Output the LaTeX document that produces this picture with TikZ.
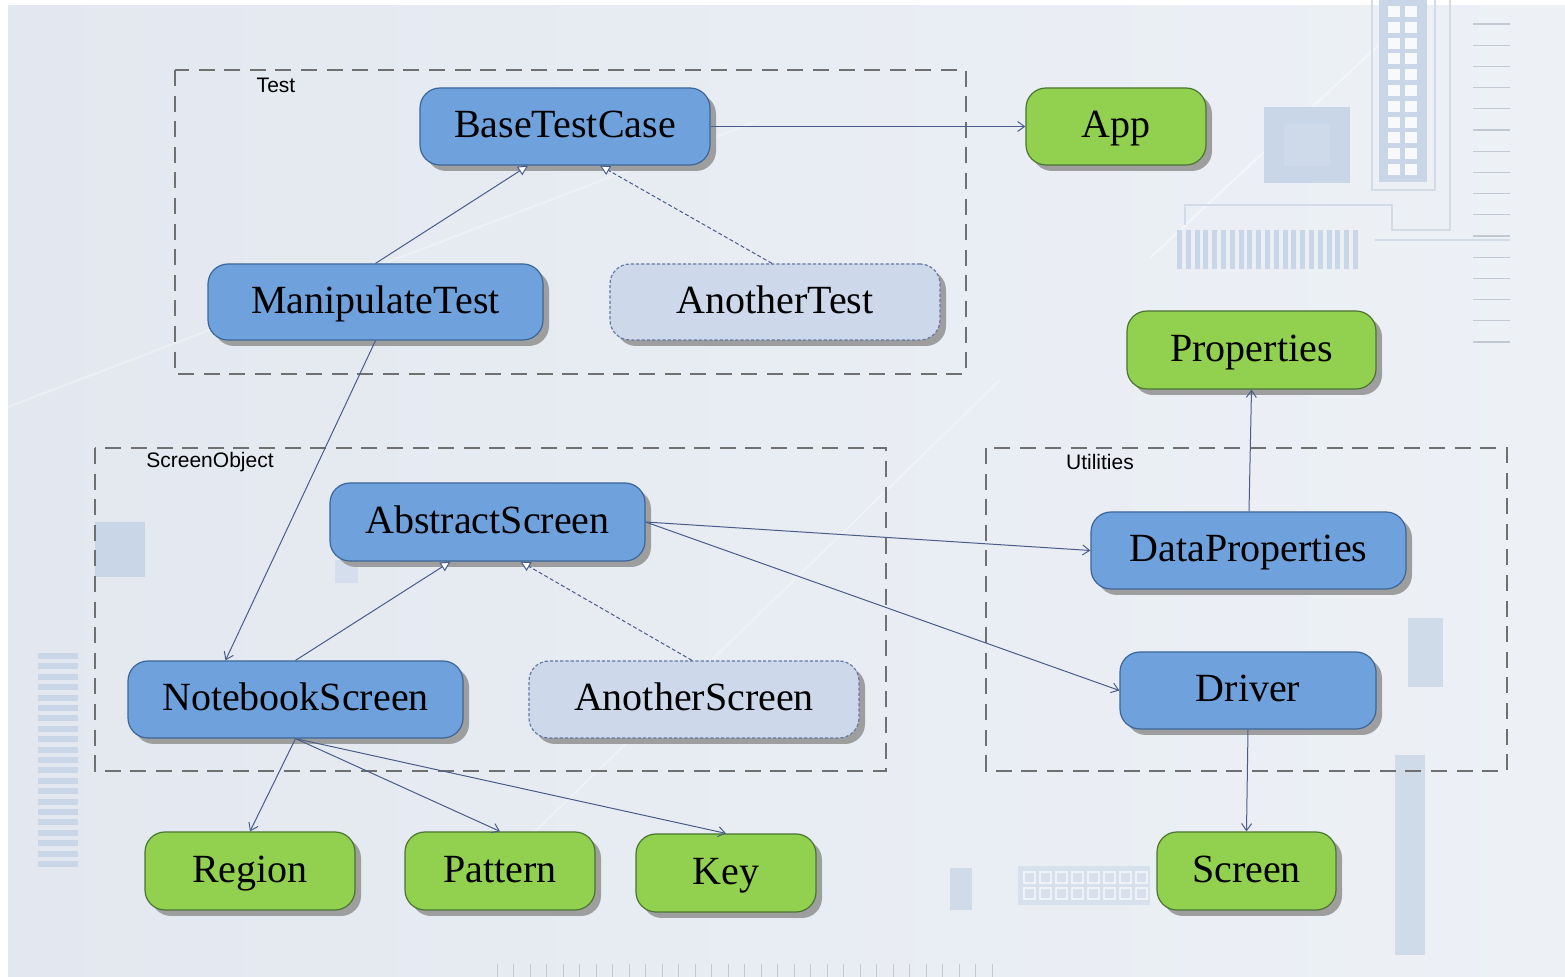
\documentclass[tikz,border=0pt]{standalone}
\usepackage{fontspec}
\setmainfont{Liberation Serif}
\newfontfamily\grouplabelfont{Liberation Sans}
\usetikzlibrary{arrows.meta,calc,shadows}

\definecolor{bgA}{HTML}{E3E8F0}
\definecolor{bgB}{HTML}{EDF1F6}
\definecolor{clsblue}{HTML}{6FA1DC}
\definecolor{clsline}{HTML}{3C6699}
\definecolor{extgreen}{HTML}{92D050}
\definecolor{extline}{HTML}{4B7530}
\definecolor{altfill}{HTML}{CDD9EA}
\definecolor{altline}{HTML}{6479A5}
\definecolor{edgecol}{HTML}{4A5D8A}
\definecolor{groupline}{HTML}{707070}
\definecolor{deco}{HTML}{C9D6E7}
\definecolor{decoline}{HTML}{D3DBE6}

\tikzset{
  boxbase/.style={rounded corners=10pt, line width=0.6pt, inner sep=0pt,
    text height=15pt, text depth=3.5pt,
    font=\fontsize{20}{24}\selectfont,
    drop shadow={shadow xshift=3pt, shadow yshift=-3pt, fill=black!38, opacity=1}},
  cls/.style={boxbase, draw=clsline, fill=clsblue},
  ext/.style={boxbase, draw=extline, fill=extgreen},
  alt/.style={boxbase, draw=altline, fill=altfill, dash pattern=on 1.6pt off 1pt},
  sz/.style 2 args={minimum width=#1, minimum height=#2},
  group/.style={draw=groupline, line width=1.3pt, dash pattern=on 8pt off 4.8pt},
  grouplabel/.style={font=\grouplabelfont\fontsize{10.5}{12}\selectfont, inner sep=0pt},
  rel/.style={draw=edgecol, line width=0.5pt,
    -{Straight Barb[length=3.5pt, width=5pt, line width=0.5pt]}},
  inh/.style={draw=edgecol, line width=0.5pt,
    -{Triangle[length=5pt, width=5pt, fill=white, line width=0.5pt]}},
  realize/.style={inh, dash pattern=on 2pt off 1.2pt},
}

\begin{document}
\begin{tikzpicture}[x=0.5pt, y=-0.5pt]
  % canvas
  \fill[white] (0,0) rectangle (1565,977);
  \shade[left color=bgA, right color=bgB] (8,6) rectangle (1565,977);
  \useasboundingbox (0,0) rectangle (1565,977);

  % faint circuit-board backdrop
  \draw[white, line width=1pt, opacity=0.3] (0,410) -- (760,120);
  \draw[white, line width=1pt, opacity=0.4] (1150,258) -- (1395,30);
  \draw[white, line width=1pt, opacity=0.3] (513,853) -- (1000,380);
  \fill[deco] (1264,107) rectangle (1350,183);
  \fill[deco!85!bgB] (1284,124) rectangle (1330,166);
  \fill[deco] (1379,0) rectangle (1427,182);
  \foreach \r in {0,...,10} {
    \fill[white!85!deco] (1388,{6+\r*15.8}) rectangle ++(12,11);
    \fill[white!85!deco] (1405,{6+\r*15.8}) rectangle ++(12,11);
  }
  \draw[decoline, line width=0.6pt] (1372,0) -- (1372,190) -- (1435,190) -- (1435,0);
  \draw[decoline, line width=0.6pt] (1185,225) -- (1185,205) -- (1392,205) -- (1392,230) -- (1450,230) -- (1450,0);
  \draw[decoline, line width=0.6pt] (1375,240) -- (1510,240);
  \foreach \k in {0,...,20}
    \fill[deco] ({1177+\k*8.8},230) rectangle ++(5,39);
  \foreach \k in {0,...,15}
    \draw[decoline!80!gray, line width=0.6pt] (1473,{24+\k*21.2}) -- (1510,{24+\k*21.2});
  \foreach \k in {0,...,20}
    \fill[deco] (38,{653+\k*10.4}) rectangle ++(40,6);
  \fill[deco] (95,522) rectangle (145,577);
  \fill[deco!70!bgB] (335,560) rectangle (358,583);
  \fill[deco!80!bgB] (1408,618) rectangle (1443,687);
  \fill[deco!80!bgB] (1395,755) rectangle (1425,955);
  \fill[deco!80!bgB] (950,868) rectangle (972,910);
  \fill[deco!60!bgB] (1018,866) rectangle (1150,905);
  \foreach \k in {0,...,7}
    \draw[white!70!deco, line width=0.6pt] ({1024+\k*16},872) rectangle ++(11,11)
      ({1024+\k*16},888) rectangle ++(11,11);
  \foreach \k in {0,...,30}
    \draw[decoline!80!gray, line width=0.5pt] ({497+\k*16.5},964) -- ++(0,13);

  % package boundaries
  \draw[group] (175,70) rectangle (966,374);
  \node[grouplabel] (lblTest) at (276,85) {Test};
  \draw[group] (95,448) rectangle (886,771);
  \node[grouplabel] (lblScreen) at (210,462) {ScreenObject};
  \draw[group] (986,448) rectangle (1507,771);
  \node[grouplabel] (lblUtil) at (1100,462) {Utilities};

  % classes
  \node[cls, sz={145pt}{38.5pt}] (btc)  at (565,126.5)  {BaseTestCase};
  \node[ext, sz={90pt}{38.5pt}]  (app)  at (1116,126.5) {App};
  \node[cls, sz={167.5pt}{38pt}] (mt)   at (375.5,302)  {ManipulateTest};
  \node[alt, sz={165pt}{38pt}]   (at)   at (775,302)    {AnotherTest};
  \node[ext, sz={124.5pt}{39pt}] (prop) at (1251.5,350) {Properties};
  \node[cls, sz={157.5pt}{39pt}] (as)   at (487.5,522)  {AbstractScreen};
  \node[cls, sz={157.5pt}{38.5pt}] (dp) at (1248.5,550.5) {DataProperties};
  \node[cls, sz={167.5pt}{38.5pt}] (nbs) at (295.5,699.5) {NotebookScreen};
  \node[alt, sz={165pt}{38.5pt}] (ansc) at (694,699.5)  {AnotherScreen};
  \node[cls, sz={128pt}{38.5pt}] (drv)  at (1248,690.5) {Driver};
  \node[ext, sz={105pt}{39pt}]   (reg)  at (250,871)    {Region};
  \node[ext, sz={95pt}{39pt}]    (pat)  at (500,871)    {Pattern};
  \node[ext, sz={90pt}{39pt}]    (key)  at (726,873)    {Key};
  \node[ext, sz={89.5pt}{39pt}]  (scr)  at (1246.5,871) {Screen};

  % relations
  \draw[rel] (btc.east) -- (app.west);
  \draw[inh] (mt.north) -- ($(btc.south)+(-37,0)$);
  \draw[realize] ($(at.north)+(-3,0)$) -- ($(btc.south)+(35,0)$);
  \draw[rel] (mt.south) -- ($(nbs.north)+(-70,0)$);
  \draw[inh] (nbs.north) -- ($(as.south)+(-37,0)$);
  \draw[realize] ($(ansc.north)+(-2,0)$) -- ($(as.south)+(33,0)$);
  \draw[rel] (as.east) -- (dp.west);
  \draw[rel] (as.east) -- (drv.west);
  \draw[rel] ($(dp.north)+(0.5,0)$) -- (prop.south);
  \draw[rel] (drv.south) -- (scr.north);
  \draw[rel] (nbs.south) -- (reg.north);
  \draw[rel] (nbs.south) -- (pat.north);
  \draw[rel] (nbs.south) -- (key.north);
\end{tikzpicture}
\end{document}
